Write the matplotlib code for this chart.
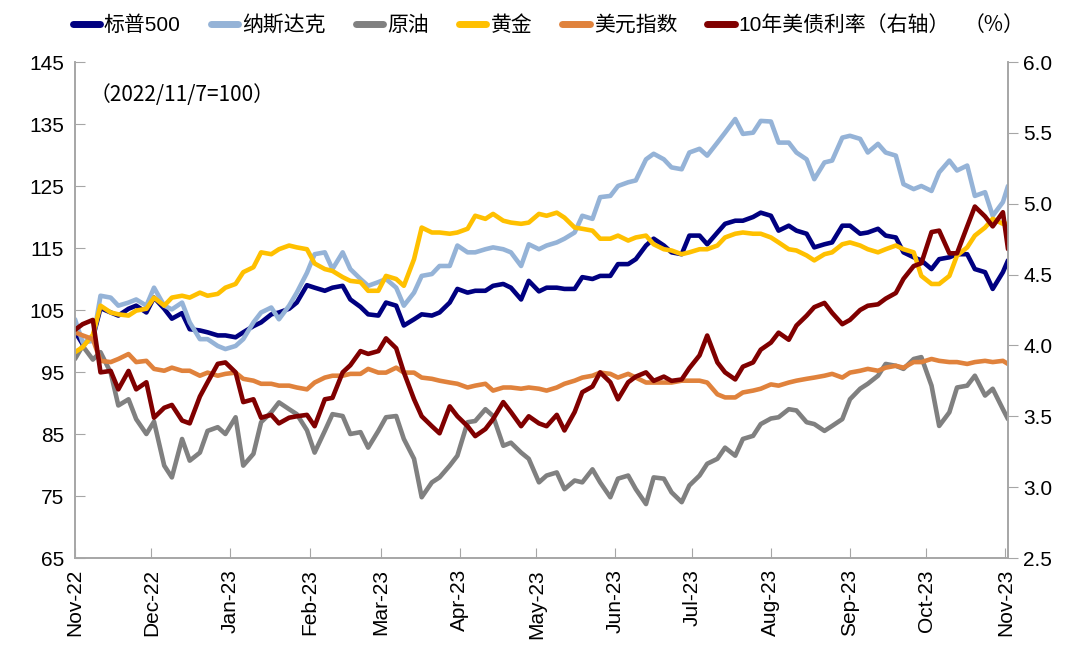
import matplotlib
matplotlib.use("Agg")
import matplotlib.pyplot as plt
import matplotlib.dates as mdates
from matplotlib.lines import Line2D
import pandas as pd

plt.rcParams['font.family'] = ['Liberation Sans', 'Noto Sans CJK SC', 'DejaVu Sans']

# observation dates: Tuesdays and Fridays, Nov 2022 - Nov 2023 (2022/11/7 = 100)
tue = pd.date_range('2022-11-01', '2023-10-31', freq='W-TUE')
fri = pd.date_range('2022-11-04', '2023-10-27', freq='W-FRI')
dates = tue.union(fri).append(pd.DatetimeIndex(['2023-11-02']))

spx = [101.5, 99.5, 100.5, 105.3, 104.6, 104.1, 105.2, 105.7, 104.6, 107.0,
       105.2, 103.6, 104.5, 101.9, 101.7, 101.4, 100.9, 100.9, 100.6, 101.4,
       102.4, 103.0, 104.3, 104.6, 105.2, 106.2, 109.0,
       108.6, 108.1, 108.6, 108.9, 106.7, 105.5, 104.3, 104.1, 106.2, 105.7,
       102.5, 103.5, 104.3, 104.1, 104.6, 106.2, 108.4, 107.8, 108.1, 108.1,
       108.9, 109.2, 108.6, 106.7, 109.7, 108.0,
       108.6, 108.6, 108.4, 108.4, 110.3, 110.0, 110.5, 110.5, 112.4, 112.4,
       113.2, 115.4, 116.5, 115.4, 114.3, 114.0, 117.0, 117.0, 115.6, 117.5,
       118.9, 119.4, 119.4, 120.0, 120.7, 120.2,
       117.8, 118.6, 117.8, 117.3, 115.1, 115.6, 115.9, 118.6, 118.6, 117.3,
       117.5, 118.1, 117.0, 116.7, 114.3, 113.5, 113.0, 111.6, 113.2, 113.5,
       114.0, 114.0, 111.6, 111.1, 108.4, 111.1, 113.0]

ndx = [103.5, 99.8, 100.0, 107.3, 107.0, 105.7, 106.2, 106.7, 105.7, 108.6,
       105.7, 105.1, 106.2, 103.0, 100.3, 100.3, 99.2, 98.7, 99.2, 100.3,
       103.0, 104.6, 105.4, 103.5, 105.7, 107.8, 111.0,
       114.0, 114.3, 111.6, 114.3, 111.6, 110.0, 108.9, 109.5, 110.0, 108.6,
       105.7, 107.8, 110.5, 110.8, 112.1, 112.1, 115.4, 114.3, 114.3, 114.8,
       115.1, 114.8, 114.3, 112.1, 115.6, 114.8,
       115.4, 115.9, 116.5, 117.5, 120.2, 119.7, 123.2, 123.4, 125.0, 125.6,
       125.9, 129.3, 130.2, 129.3, 128.0, 127.7, 130.4, 131.0, 129.9, 132.0,
       133.6, 135.8, 133.4, 133.6, 135.5, 135.4,
       132.0, 132.0, 130.4, 129.3, 126.1, 128.8, 129.1, 132.8, 133.1, 132.6,
       130.4, 131.8, 130.4, 129.9, 125.3, 124.5, 125.0, 124.2, 127.2, 129.1,
       127.5, 128.3, 123.4, 124.0, 120.2, 122.4, 125.0]

oil = [97.1, 99.2, 97.0, 98.2, 94.9, 89.6, 90.6, 87.4, 85.0, 87.0,
       79.9, 78.0, 84.2, 80.7, 82.0, 85.5, 86.1, 85.0, 87.7, 79.9,
       81.8, 86.9, 88.5, 90.1, 89.0, 88.2, 85.6,
       82.0, 85.5, 88.2, 87.9, 85.0, 85.3, 82.8, 85.5, 87.7, 87.9,
       84.2, 81.0, 74.8, 77.2, 78.0, 79.9, 81.5, 86.9, 87.1, 89.0,
       87.9, 83.1, 83.6, 82.0, 81.0, 77.2,
       78.3, 78.8, 76.1, 77.5, 77.2, 79.3, 77.2, 74.8, 77.8, 78.3,
       76.1, 73.7, 78.0, 77.8, 75.6, 74.0, 76.7, 78.3, 80.2, 81.0,
       82.8, 81.5, 84.2, 84.7, 86.6, 87.5,
       87.7, 89.0, 88.8, 86.9, 86.6, 85.5, 86.3, 87.4, 90.6, 92.3,
       93.1, 94.4, 96.3, 96.0, 95.5, 97.1, 97.4, 92.8, 86.3, 88.5,
       92.5, 92.8, 94.4, 91.2, 92.3, 89.0, 87.4]

gold = [98.2, 99.0, 101.0, 105.7, 104.6, 104.3, 104.1, 104.9, 105.2, 107.0,
        105.7, 107.0, 107.3, 107.0, 107.8, 107.3, 107.6, 108.6, 109.2, 111.1,
        111.9, 114.3, 114.0, 114.8, 115.4, 115.1, 114.8,
        112.5, 111.6, 111.3, 110.3, 109.7, 109.5, 108.1, 108.1, 110.5, 110.0,
        108.9, 113.2, 118.3, 117.5, 117.5, 117.3, 117.5, 118.1, 120.2, 119.7,
        120.5, 119.4, 119.1, 118.9, 119.1, 120.5,
        120.2, 120.7, 119.9, 118.3, 118.1, 117.8, 116.5, 116.5, 117.0, 116.2,
        116.7, 117.0, 115.6, 114.8, 114.6, 114.0, 114.3, 114.8, 114.8, 115.4,
        116.7, 117.3, 117.5, 117.3, 117.3, 116.7,
        115.9, 114.8, 114.6, 113.8, 113.0, 114.0, 114.3, 115.6, 115.9, 115.4,
        114.8, 114.3, 114.8, 115.4, 114.8, 114.3, 110.5, 109.2, 109.2, 110.5,
        113.8, 115.1, 117.0, 118.3, 119.7, 118.9, 118.9]

dxy = [101.4, 100.9, 100.3, 96.8, 96.6, 97.1, 97.9, 96.6, 96.8, 95.5,
       95.2, 95.7, 95.2, 95.2, 94.4, 94.9, 94.4, 94.7, 94.9, 93.9,
       93.6, 93.1, 93.1, 92.8, 92.8, 92.5, 92.2,
       93.3, 94.1, 94.4, 94.4, 94.7, 94.7, 95.5, 94.9, 94.9, 95.7,
       94.9, 94.9, 94.1, 93.9, 93.6, 93.3, 93.1, 92.5, 92.8, 93.1,
       92.0, 92.5, 92.5, 92.3, 92.5, 92.3,
       92.0, 92.5, 93.1, 93.6, 94.1, 94.4, 94.9, 94.7, 94.1, 94.7,
       94.1, 93.3, 93.3, 93.3, 93.3, 93.6, 93.6, 93.6, 93.3, 91.4,
       90.9, 90.9, 91.7, 92.0, 92.3, 93.0,
       92.8, 93.3, 93.6, 93.9, 94.1, 94.4, 94.7, 94.1, 94.9, 95.2,
       95.5, 95.2, 95.7, 96.0, 95.7, 96.6, 96.6, 97.1, 96.8, 96.6,
       96.6, 96.3, 96.6, 96.8, 96.6, 96.8, 96.3]

ust10y = [4.11, 4.15, 4.18, 3.81, 3.82, 3.69, 3.82, 3.69, 3.74, 3.49,
          3.56, 3.58, 3.47, 3.45, 3.64, 3.74, 3.87, 3.88, 3.81, 3.60,
          3.62, 3.49, 3.51, 3.45, 3.49, 3.50, 3.51,
          3.43, 3.62, 3.63, 3.81, 3.86, 3.96, 3.94, 3.96, 4.05, 3.98,
          3.81, 3.62, 3.50, 3.43, 3.38, 3.57, 3.50, 3.43, 3.36, 3.41,
          3.48, 3.60, 3.53, 3.43, 3.50, 3.45,
          3.43, 3.51, 3.40, 3.53, 3.67, 3.71, 3.81, 3.74, 3.62, 3.74,
          3.78, 3.81, 3.75, 3.78, 3.75, 3.76, 3.84, 3.93, 4.07, 3.88,
          3.81, 3.76, 3.85, 3.88, 3.97, 4.02,
          4.09, 4.04, 4.14, 4.21, 4.27, 4.30, 4.23, 4.15, 4.18, 4.25,
          4.28, 4.29, 4.33, 4.37, 4.47, 4.56, 4.58, 4.80, 4.81, 4.65,
          4.65, 4.84, 4.98, 4.91, 4.84, 4.94, 4.68]

labels = ['标普500', '纳斯达克', '原油', '黄金', '美元指数', '10年美债利率（右轴）']
colors = ['#000080', '#95B3D7', '#808080', '#FFC000', '#E0823C', '#800000']

left_ticks = list(range(65, 146, 10))
right_ticks = [2.5, 3.0, 3.5, 4.0, 4.5, 5.0, 5.5, 6.0]
month_ticks = pd.date_range('2022-11-01', '2023-11-01', freq='MS')

fig = plt.figure(figsize=(10.8, 6.66), dpi=100)
ax = fig.add_axes([75/1080, 1-558/666, (1008-75)/1080, (558-62)/666])
ax2 = ax.twinx()

lw = 3.3
for series, c in zip([spx, ndx, oil, gold, dxy], colors[:5]):
    ax.plot(dates, series, color=c, lw=lw, solid_joinstyle='round', solid_capstyle='round')
ax2.plot(dates, ust10y, color=colors[5], lw=lw, solid_joinstyle='round', solid_capstyle='round')

ax.set_xlim(pd.Timestamp('2022-11-01'), pd.Timestamp('2023-11-02'))
ax.set_ylim(65, 145)
ax2.set_ylim(2.5, 6.0)
ax.set_yticks(left_ticks)
ax2.set_yticks(right_ticks)
ax2.set_yticklabels([f'{v:.1f}' for v in right_ticks])
ax.set_xticks(month_ticks)
ax.xaxis.set_major_formatter(mdates.DateFormatter('%b-%y'))

spine_c = '#A6A6A6'
for a in (ax, ax2):
    a.spines['top'].set_visible(False)
    for s in ('left', 'right', 'bottom'):
        a.spines[s].set_color(spine_c)
        a.spines[s].set_linewidth(1.2)

ax.tick_params(axis='y', direction='in', length=7, color=spine_c, labelsize=15, pad=8)
ax.tick_params(axis='x', direction='in', length=7, color=spine_c, labelsize=15, rotation=90, pad=8)
ax2.tick_params(axis='y', direction='out', length=7, color=spine_c, labelsize=15, pad=4)

ax.text(0.016, 0.955, '（2022/11/7=100）', transform=ax.transAxes, fontsize=15,
        va='top', ha='left', family=['Noto Sans CJK SC', 'DejaVu Sans'])

handles = [Line2D([0], [0], color=c, lw=5, solid_capstyle='round') for c in colors]
fig.legend(handles, labels, loc='center left', bbox_to_anchor=(54/1080, 1-25/666),
           ncol=6, frameon=False, handlelength=1.3, handletextpad=0.2,
           columnspacing=1.45, prop={'family': ['Liberation Sans', 'Noto Sans CJK SC'], 'size': 15})
fig.text(964/1080, 1-25/666, '（%）', fontsize=15, va='center', ha='left',
         family=['Noto Sans CJK SC', 'DejaVu Sans'])

fig.savefig('out.png', dpi=100)
